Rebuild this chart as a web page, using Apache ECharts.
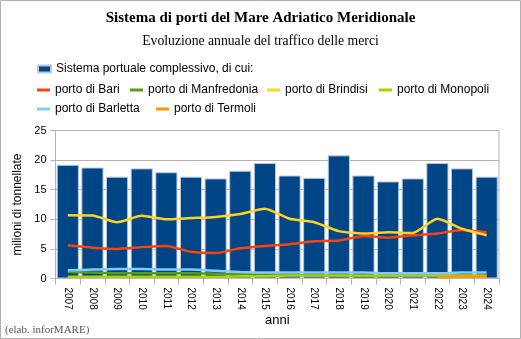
<!DOCTYPE html>
<html><head><meta charset="utf-8">
<script src="https://cdn.jsdelivr.net/npm/echarts@6/dist/echarts.min.js"></script>
<style>html,body{margin:0;padding:0;background:#fff}#c{width:521px;height:339px}</style>
</head><body><div id="c"></div>
<script>
const years = ['2007','2008','2009','2010','2011','2012','2013','2014','2015','2016','2017','2018','2019','2020','2021','2022','2023','2024'];
const sistema =     [19.2,18.75,17.2,18.6,17.95,17.2,16.9,18.2,19.5,17.4,17.0,20.8,17.4,16.4,16.9,19.5,18.6,17.2];
const bari =        [5.6,5.2,5.0,5.3,5.5,4.5,4.3,5.1,5.5,5.8,6.3,6.4,7.2,6.9,7.3,7.6,8.2,7.8];
const manfredonia = [1.1,1.0,0.9,0.9,0.9,0.9,0.8,0.7,0.7,0.6,0.5,0.5,0.4,0.4,0.5,0.5,0.5,0.4];
const brindisi =    [10.7,10.65,9.5,10.6,10.0,10.2,10.4,10.9,11.8,10.1,9.5,8.0,7.6,7.8,7.7,10.1,8.4,7.3];
const monopoli =    [0.3,0.3,0.3,0.3,0.3,0.3,0.3,0.4,0.4,0.5,0.5,0.5,0.5,0.5,0.5,0.5,0.5,0.5];
const barletta =    [1.4,1.5,1.6,1.6,1.5,1.5,1.3,1.1,1.0,1.0,1.0,1.0,1.0,0.9,0.9,0.9,1.0,1.0];
const termoli =     [null,null,null,null,null,null,null,null,null,null,null,null,null,null,null,0.2,0.3,0.3];
const yTicks = [0,5,10,15,20,25];

const names = ['Sistema portuale complessivo, di cui:','porto di Bari','porto di Manfredonia','porto di Brindisi','porto di Monopoli','porto di Barletta','porto di Termoli'];
const colors = ['#004586','#ff420e','#579d1c','#ffd320','#aecf00','#83caff','#ff950e'];
const lineData = [bari, manfredonia, brindisi, monopoli, barletta, termoli];
const sans = 'Liberation Sans, Arial, sans-serif';
const serif = 'Liberation Serif, Times New Roman, serif';

const chart = echarts.init(document.getElementById('c'), null, {renderer:'canvas'});
const series = [{
  name: names[0], type:'bar', data: sistema, barCategoryGap:'10%',
  itemStyle:{color:colors[0], borderColor:'#b9c9dc', borderWidth:1}, z:1
}];
lineData.forEach((d,i)=>{
  series.push({name:names[i+1], type:'line', data:d, smooth:0.2, symbol:'none',
    lineStyle:{color:colors[i+1], width:2.5}, itemStyle:{color:colors[i+1]}, z:2+i});
});
// legend placement (marker left edge, top)
const legPos = [[37,63],[37,84],[130,84],[267,84],[379,84],[37,103],[156,103]];
const legends = names.map((n,i)=>({
  orient:'horizontal', icon:'rect', itemWidth:13, itemHeight: i===0?7:3,
  textStyle:{fontFamily:sans, fontSize:12, color:'#000'}, selectedMode:false, padding:0,
  left:legPos[i][0], top:legPos[i][1], data:[n]
}));
chart.setOption({
  animation:false,
  color: colors,
  title:[
    {text:'Sistema di porti del Mare Adriatico Meridionale', left:'center', top:11, padding:0, textStyle:{fontFamily:serif, fontSize:15, fontWeight:'bold', color:'#000'}},
    {text:'Evoluzione annuale del traffico delle merci', left:'center', top:34, padding:0, textStyle:{fontFamily:serif, fontSize:13.7, fontWeight:'normal', color:'#000'}},
    {text:'(elab. inforMARE)', left:5, top:325, padding:0, textStyle:{fontFamily:serif, fontSize:11, fontWeight:'normal', color:'#555'}}
  ],
  legend: legends,
  grid:{left:55.5, right:22, top:130.5, bottom:60.5, show:true, borderColor:'#b3b3b3', borderWidth:1, containLabel:false},
  xAxis:{type:'category', data:years, name:'anni', nameLocation:'middle', nameGap:35,
    nameTextStyle:{fontFamily:sans, fontSize:13, color:'#000'},
    axisLine:{lineStyle:{color:'#b3b3b3'}},
    axisTick:{show:true, interval:0, alignWithLabel:false, length:6, lineStyle:{color:'#b3b3b3'}},
    axisLabel:{interval:0, rotate:-90, fontFamily:sans, fontSize:10, color:'#000', margin:9}
  },
  yAxis:{type:'value', min:yTicks[0], max:yTicks[yTicks.length-1], interval:5, name:'milioni di tonnellate', nameLocation:'middle', nameGap:29,
    nameTextStyle:{fontFamily:sans, fontSize:12, color:'#000'},
    axisLine:{show:true, lineStyle:{color:'#b3b3b3'}},
    axisTick:{show:true, length:5, lineStyle:{color:'#b3b3b3'}},
    splitLine:{lineStyle:{color:'#b3b3b3'}},
    axisLabel:{fontFamily:sans, fontSize:11, color:'#000', margin:9}
  },
  graphic:[{type:'rect', shape:{x:0.5,y:0.5,width:520,height:338}, style:{fill:'none', stroke:'#b0b0b0', lineWidth:1}, silent:true, z:100}],
  series: series
});
</script></body></html>
